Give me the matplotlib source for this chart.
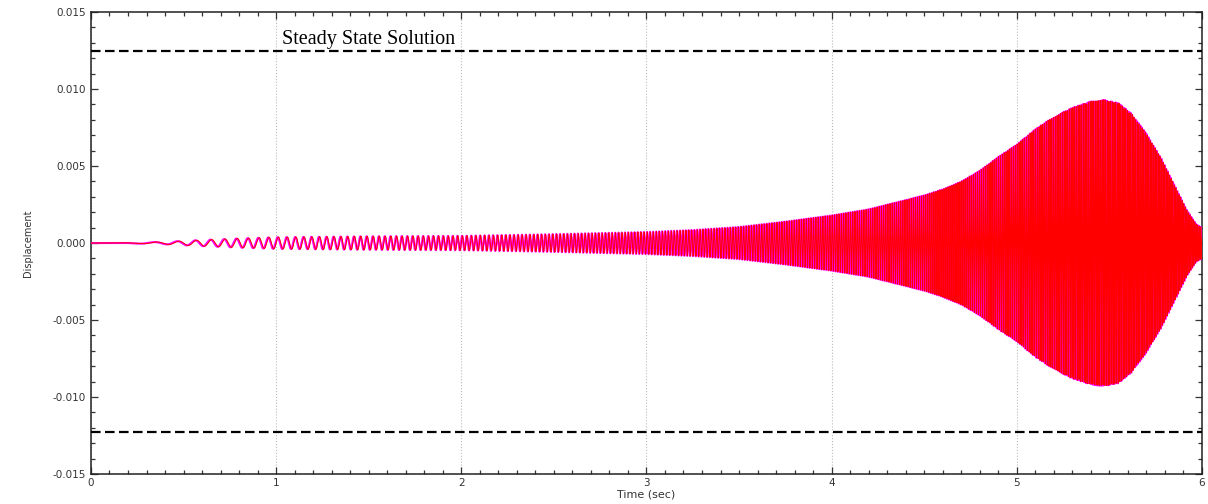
import numpy as np
import matplotlib
matplotlib.use("Agg")
import matplotlib.pyplot as plt
from matplotlib.ticker import MultipleLocator, FormatStrFormatter

# envelope of the displacement response (time s, amplitude)
env_t = [0.0, 0.2, 0.4, 0.6, 0.8, 1.0, 1.5, 2.0, 2.5, 3.0, 3.25, 3.5, 3.75,
         4.0, 4.1, 4.2, 4.3, 4.4, 4.5, 4.6, 4.7, 4.8, 4.9, 5.0, 5.1, 5.2,
         5.3, 5.4, 5.47, 5.55, 5.62, 5.7, 5.78, 5.85, 5.92, 5.97, 6.0]
env_a = [0.0, 0.00002, 0.00008, 0.0002, 0.0003, 0.00038, 0.00044, 0.00047,
         0.00058, 0.00072, 0.00085, 0.00105, 0.0014, 0.0018, 0.0020, 0.0022,
         0.0025, 0.0028, 0.0031, 0.0035, 0.0040, 0.0047, 0.0056, 0.0064,
         0.0074, 0.0082, 0.0088, 0.0092, 0.0093, 0.0091, 0.0084, 0.0071,
         0.0055, 0.0038, 0.0021, 0.0012, 0.0010]
# sweep rate of the excitation (Hz per second), counted from the early wiggles
sweep_rate = 20.0
steady_upper = 0.0125
steady_lower = -0.0123

t = np.arange(0, 6.0005, 0.0004)
amp = np.interp(t, env_t, env_a)
phase = np.pi * sweep_rate * t ** 2
disp_red = amp * np.sin(phase)
disp_mag = amp * np.sin(phase + 0.5)

fig = plt.figure(figsize=(12.08, 5.04), dpi=100)
ax = fig.add_axes([0.0753, 0.0595, 0.9197, 0.9165])

ax.plot(t, disp_mag, color="#ff00ff", lw=1.5, zorder=3)
ax.plot(t, disp_red, color="#ff0000", lw=0.7, zorder=4)

ax.axhline(steady_upper, color="black", lw=1.6, dashes=(4.3, 2.0), zorder=5)
ax.axhline(steady_lower, color="black", lw=1.6, dashes=(4.3, 2.0), zorder=5)
ax.text(1.03, 0.01295, "Steady State Solution", family="Liberation Serif",
        fontsize=14.5, va="baseline", ha="left")

ax.set_xlim(0, 6)
ax.set_ylim(-0.015, 0.015)
ax.xaxis.set_major_locator(MultipleLocator(1))
ax.xaxis.set_minor_locator(MultipleLocator(0.1))
ax.yaxis.set_major_locator(MultipleLocator(0.005))
ax.yaxis.set_minor_locator(MultipleLocator(0.001))
ax.yaxis.set_major_formatter(FormatStrFormatter("%.3f"))
ax.xaxis.set_major_formatter(FormatStrFormatter("%d"))

ax.tick_params(which="both", direction="in", top=True, right=True,
               colors="#333333", labelsize=7.5, width=0.9)
ax.tick_params(which="major", length=5)
ax.tick_params(which="minor", length=3)
ax.tick_params(axis="x", pad=3)

ax.grid(axis="x", which="major", color="#bbbbbb", ls=":", lw=0.8)
for s in ax.spines.values():
    s.set_color("#222222")
    s.set_linewidth(1.1)

ax.set_xlabel("Time (sec)", fontsize=8, color="#333333", labelpad=1)
ax.set_ylabel("Displacement", fontsize=7, color="#333333", labelpad=14)

plt.savefig("out.png", dpi=100)
